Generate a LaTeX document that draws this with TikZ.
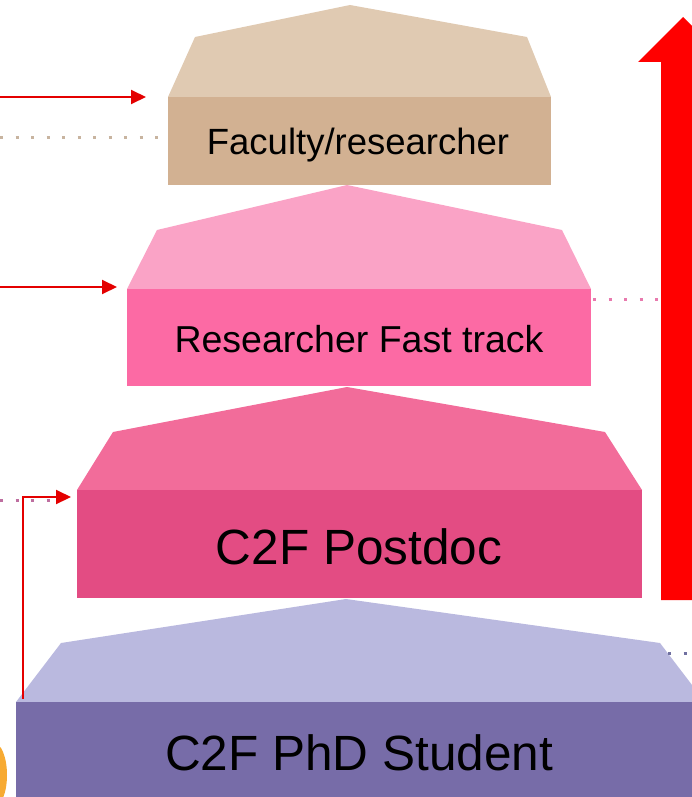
\documentclass[tikz,border=0pt]{standalone}
\usepackage{fontspec}
\setmainfont{Liberation Sans}
\usetikzlibrary{arrows.meta}
\definecolor{roofA}{RGB}{224,202,178}
\definecolor{frontA}{RGB}{210,177,146}
\definecolor{roofB}{RGB}{250,163,198}
\definecolor{frontB}{RGB}{252,106,164}
\definecolor{roofC}{RGB}{242,108,154}
\definecolor{frontC}{RGB}{227,76,131}
\definecolor{roofD}{RGB}{186,185,223}
\definecolor{frontD}{RGB}{119,108,168}
\definecolor{arrowred}{RGB}{228,0,0}
\definecolor{dotA}{RGB}{200,180,160}
\definecolor{dotB}{RGB}{232,122,174}
\definecolor{dotC}{RGB}{190,110,160}
\definecolor{dotD}{RGB}{112,112,160}
\definecolor{blob}{RGB}{247,170,50}
\begin{document}
\begin{tikzpicture}[x=1pt,y=-1pt,
  lbl/.style={anchor=base,inner sep=0pt,text=black},
  smallfont/.style={font=\fontsize{36.5}{40}\selectfont},
  midfont/.style={font=\fontsize{37.5}{40}\selectfont},
  bigfont/.style={font=\fontsize{49.5}{54}\selectfont},
  redarrow/.style={draw=arrowred,line width=2pt,-{Triangle[length=15pt,width=14pt]}},
  dotline/.style={line width=3pt,dash pattern=on 3pt off 12.5pt}]
\useasboundingbox (0,0) rectangle (692,797);
\clip (0,0) rectangle (692,797);
% orange blob (cut at left edge)
\fill[blob] (-6,775) ellipse [x radius=13, y radius=32];
% block D: PhD
\fill[roofD] (16,702) -- (61,643) -- (346,599) -- (660,643) -- (705,702) -- cycle;
\fill[frontD] (16,702) rectangle (705,810);
% block C: Postdoc
\fill[roofC] (77,490) -- (113,432) -- (347,387) -- (605,432) -- (642,490) -- cycle;
\fill[frontC] (77,490) rectangle (642,598);
% block B: Researcher fast track
\fill[roofB] (127,289) -- (157,230) -- (347,185) -- (562,230) -- (591,289) -- cycle;
\fill[frontB] (127,289) rectangle (591,386);
% block A: Faculty
\fill[roofA] (168,97) -- (195,37) -- (350,5) -- (527,37) -- (551,97) -- cycle;
\fill[frontA] (168,97) rectangle (551,185);
% labels
\node[lbl,smallfont] (fac) at (358,154) {Faculty/researcher};
\node[lbl,midfont] (fast) at (359,352) {Researcher Fast track};
\node[lbl,bigfont] (post) at (359,564) {C2F Postdoc};
\node[lbl,bigfont] (phd) at (359,770) {C2F PhD Student};
% named ends
\coordinate (a1s) at (0,97);
\coordinate (a1e) at (146,97);
\coordinate (a2s) at (0,287);
\coordinate (a2e) at (117,287);
\coordinate (a3s) at (23,699);
\coordinate (a3c) at (23,497);
\coordinate (a3e) at (71,497);
\coordinate (d1s) at (0,137);
\coordinate (d1e) at (165,137);
\coordinate (d2s) at (593,299);
\coordinate (d2e) at (660,299);
\coordinate (d3s) at (0,500);
\coordinate (d3e) at (62,500);
\coordinate (d4s) at (668,653);
\coordinate (d4e) at (700,653);
% dotted lines
\draw[dotline,draw=dotA] (d1s) -- (d1e);
\draw[dotline,draw=dotB] (d2s) -- (d2e);
\draw[dotline,draw=dotC] (d3s) -- (d3e);
\draw[dotline,draw=dotD] (d4s) -- (d4e);
% red arrows
\draw[redarrow] (a1s) -- (a1e);
\draw[redarrow] (a2s) -- (a2e);
\draw[redarrow] (a3s) -- (a3c) -- (a3e);
% big red arrow
\fill[red] (661,600) -- (661,62) -- (638,62) -- (683,17) -- (728,62) -- (705,62) -- (705,600) -- cycle;
\end{tikzpicture}
\end{document}
